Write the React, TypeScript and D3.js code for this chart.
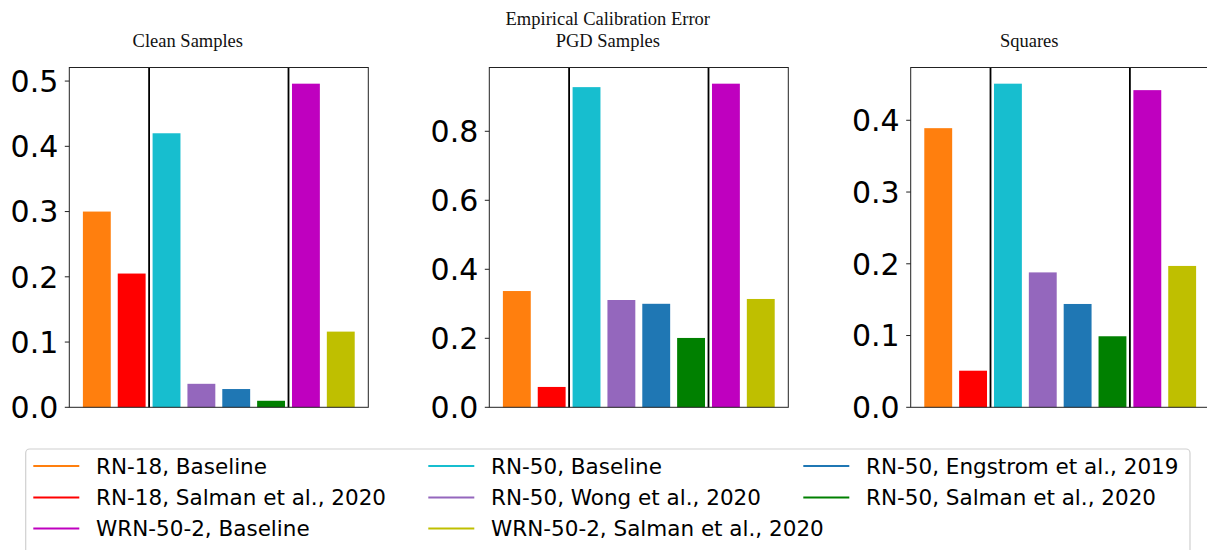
import React from "react";
import * as d3 from "d3";

const seriesNames = [
  "RN-18, Baseline",
  "RN-18, Salman et al., 2020",
  "RN-50, Baseline",
  "RN-50, Wong et al., 2020",
  "RN-50, Engstrom et al., 2019",
  "RN-50, Salman et al., 2020",
  "WRN-50-2, Baseline",
  "WRN-50-2, Salman et al., 2020",
];
const seriesColors = ["#ff7f0e", "#ff0000", "#17becf", "#9467bd", "#1f77b4", "#008000", "#bf00bf", "#bfbf00"];

const panelTitles = [["Clean Samples"], ["Empirical Calibration Error", "PGD Samples"], ["Squares"]];
const cleanValues = [0.3, 0.205, 0.42, 0.036, 0.028, 0.01, 0.496, 0.116];
const pgdValues = [0.337, 0.059, 0.928, 0.311, 0.3, 0.201, 0.938, 0.314];
const squaresValues = [0.389, 0.051, 0.451, 0.188, 0.144, 0.099, 0.442, 0.197];
const cleanTicks = [0, 0.1, 0.2, 0.3, 0.4, 0.5];
const pgdTicks = [0, 0.2, 0.4, 0.6, 0.8];
const squaresTicks = [0, 0.1, 0.2, 0.3, 0.4];
const separators = [1.5, 5.5];
// legend order (column-major, 3 columns)
const legendOrder = [0, 1, 6, 2, 3, 7, 4, 5];

const panels = [
  { values: cleanValues, ticks: cleanTicks, title: panelTitles[0] },
  { values: pgdValues, ticks: pgdTicks, title: panelTitles[1] },
  { values: squaresValues, ticks: squaresTicks, title: panelTitles[2] },
];

const W = 1207;
const H = 550;
const panelLefts = [69.3, 489.3, 910.7];
const panelWidth = 299;
const top = 67.5;
const bottom = 407.3;
const barWidth = 0.8;

function Panel({ p, left }: { p: (typeof panels)[0]; left: number }) {
  const n = p.values.length;
  const lo = -barWidth / 2;
  const hi = n - 1 + barWidth / 2;
  const m = (hi - lo) * 0.05;
  const x = d3.scaleLinear().domain([lo - m, hi + m]).range([left, left + panelWidth]);
  const ymax = (d3.max(p.values) as number) * 1.05;
  const y = d3.scaleLinear().domain([0, ymax]).range([bottom, top]);
  const titleCx = left + panelWidth / 2 - 31;
  const titleBase = 47;
  return (
    <g>
      {p.title.map((t, i) => (
        <text
          key={t}
          x={titleCx}
          y={titleBase - (p.title.length - 1 - i) * 22}
          textAnchor="middle"
          fontFamily="'Liberation Serif', 'Times New Roman', serif"
          fontSize={18.5}
          fill="#111"
        >
          {t}
        </text>
      ))}
      {p.values.map((v, i) => (
        <rect
          key={i}
          x={x(i - barWidth / 2)}
          width={x(i + barWidth / 2) - x(i - barWidth / 2)}
          y={y(v)}
          height={y(0) - y(v)}
          fill={seriesColors[i]}
        />
      ))}
      {separators.map((s) => (
        <line key={s} x1={x(s)} x2={x(s)} y1={top} y2={bottom} stroke="#000" strokeWidth={1.8} />
      ))}
      <rect x={left} y={top} width={panelWidth} height={bottom - top} fill="none" stroke="#222" strokeWidth={1} />
      {p.ticks.map((t) => (
        <g key={t}>
          <line x1={left - 4.5} x2={left} y1={y(t)} y2={y(t)} stroke="#222" strokeWidth={1} />
          <text
            x={left - 11}
            y={y(t)}
            dy="0.36em"
            textAnchor="end"
            fontFamily="'DejaVu Sans', sans-serif"
            fontSize={30}
            fill="#000"
          >
            {t.toFixed(1)}
          </text>
        </g>
      ))}
    </g>
  );
}

export default function App() {
  const colX = [33.3, 428.3, 803.3];
  const rowY = [466, 497.5, 528.5];
  return (
    <svg
      width={W}
      height={H}
      viewBox={`0 0 ${W} ${H}`}
      style={{ position: "absolute", left: 0, top: 0, background: "#fff" }}
    >
      <rect x={0} y={0} width={W} height={H} fill="#fff" />
      {panels.map((p, i) => (
        <Panel key={i} p={p} left={panelLefts[i]} />
      ))}
      <rect x={25.7} y={449} width={1164.3} height={130} rx={4} fill="#fff" stroke="#d0d0d0" strokeWidth={1.2} />
      {legendOrder.map((si, k) => {
        const col = Math.floor(k / 3);
        const row = k % 3;
        const lx = colX[col];
        const ly = rowY[row];
        return (
          <g key={si}>
            <line x1={lx} x2={lx + 46} y1={ly} y2={ly} stroke={seriesColors[si]} strokeWidth={2} />
            <text
              x={lx + 62.7}
              y={ly}
              dy="0.36em"
              fontFamily="'DejaVu Sans', sans-serif"
              fontSize={21.5}
              fill="#000"
            >
              {seriesNames[si]}
            </text>
          </g>
        );
      })}
    </svg>
  );
}
